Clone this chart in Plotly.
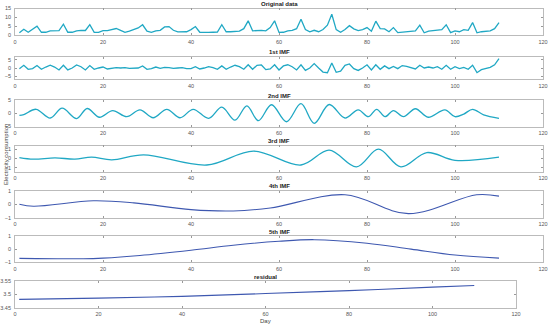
import plotly.graph_objects as go

W, H = 550, 325

# ---------------- data ----------------
days = list(range(1, 111))

original = [1.4, 3.4, 1.7, 3.4, 5.1, 1.7, 1.7, 2.5, 2.6, 2.6,
            6.2, 1.7, 1.7, 2.5, 2.8, 2.7, 6.0, 1.7, 1.6, 2.6,
            2.6, 3.4, 3.8, 2.8, 1.7, 2.3, 3.2, 4.1, 5.9, 2.3,
            1.6, 2.5, 2.8, 4.7, 4.9, 2.8, 1.9, 2.0, 2.0, 3.2,
            4.9, 1.7, 1.5, 1.6, 1.7, 1.8, 5.9, 2.0, 2.0, 2.0,
            2.3, 3.7, 8.1, 2.5, 2.8, 2.8, 2.5, 4.3, 8.1, 1.6,
            1.7, 2.5, 2.8, 3.7, 9.0, 3.2, 1.9, 2.8, 2.0, 3.2,
            5.7, 11.8, 3.2, 1.7, 3.2, 5.4, 3.6, 2.6, 3.2, 4.3,
            2.3, 7.9, 3.7, 3.6, 2.0, 4.3, 1.5, 1.7, 1.9, 2.0,
            2.5, 5.7, 1.4, 2.3, 2.5, 2.8, 3.2, 5.9, 1.5, 2.5,
            2.0, 3.2, 2.8, 7.1, 1.4, 2.0, 2.3, 2.5, 3.7, 7.1]

imf1 = [-0.4, 1.7, -0.8, -0.4, 1.5, -0.8, 0.6, 1.7, 0.6, -1.2,
        1.7, -1.2, 0.0, 1.9, 0.8, -1.2, 1.5, -0.8, 0.0, 0.6,
        -0.6, -0.2, 0.2, 0.0, 0.2, -0.2, 0.0, 0.0, 1.3, -0.8,
        -0.4, 0.6, -0.2, 0.4, 0.2, -0.2, 0.0, 0.2, -0.4, -0.4,
        0.8, -0.6, 0.0, 0.8, 0.2, -0.8, 1.3, -0.8, 0.6, 1.7,
        0.8, -0.8, 2.0, -0.8, 1.7, 1.9, -1.0, -0.6, 2.0, -1.2,
        1.3, 2.0, 0.8, -1.2, 2.0, -1.5, 0.0, 2.7, 0.0, -2.5,
        -2.9, 3.1, -2.7, -2.0, 1.7, 2.5, -0.4, -1.5, 0.0, 2.0,
        -1.2, 2.0, -0.8, 1.3, -0.4, 1.0, -0.4, 1.5, 1.0, 0.2,
        -0.6, 1.7, 0.0, 0.6, 0.0, 0.8, -0.8, 1.7, -0.8, 0.8,
        -0.4, 0.4, -0.8, 1.7, -2.9, -1.0, -0.4, 0.4, 2.0, 5.8]

imf2_day = [1, 2, 4.8, 8, 10.7, 14, 16.4, 19.2, 22.2, 25.4, 28.4, 31.4, 34.5,
            37.5, 40.5, 44, 47, 50, 52.7, 55.3, 58.3, 61.7, 65, 68, 71.4, 75,
            78, 80.3, 82.2, 84.1, 86, 88.3, 91, 93.9, 97.7, 100, 102, 104,
            106.5, 110]
imf2_val = [-0.8, -0.5, 1.5, -1.8, 1.9, -2.0, 1.8, -1.5, 1.0, -1.3, 1.3, -1.7, 1.5,
            -1.7, 1.5, -1.9, 2.3, -2.6, 2.8, -2.8, 3.2, -3.2, 3.6, -3.8, 3.3, -1.8,
            1.3, -1.3, 1.5, -1.3, 1.0, -1.3, 1.7, -1.5, 1.3, -1.3, -0.3, 1.5,
            -0.6, -1.9]

imf3_day = [1, 4.2, 9.1, 13.6, 17.4, 22, 29.2, 43.6, 54.2, 65, 71.4, 77.6,
            82.6, 87.7, 93.6, 100, 110]
imf3_val = [0.1, -0.07, 0.07, -0.07, 0.14, -0.14, 0.4, -0.7, 0.8, -0.7, 0.9, -0.9,
            1.0, -0.9, 0.64, -0.2, 0.14]

imf4_day = [1, 4.2, 17.8, 27, 40, 49.6, 58, 75, 89.4, 104.9, 110]
imf4_val = [0.0, -0.15, 0.25, 0.1, -0.4, -0.5, -0.28, 0.7, -0.7, 0.7, 0.6]

imf5_day = [1, 15.5, 20, 28.4, 40, 49.6, 60, 68, 80, 90, 100, 110]
imf5_val = [-0.7, -0.73, -0.68, -0.48, -0.08, 0.3, 0.6, 0.72, 0.45, 0.0, -0.45, -0.68]

res_day = [1, 20, 40, 60, 80, 100, 110]
res_val = [3.481, 3.486, 3.4925, 3.503, 3.514, 3.527, 3.533]

titles = ["Original data", "1st IMF", "2nd IMF", "3rd IMF", "4th IMF", "5th IMF", "residual"]
y_ranges = [[0, 15], [-7, 7], [-5, 5], [-1.4, 1.4], [-1, 1], [-1, 1], [3.45, 3.55]]
y_ticks = [[0, 5, 10, 15], [-5, 0, 5], [-5, 0, 5], [-1, 0, 1], [-1, 0, 1], [-1, 0, 1],
           [3.45, 3.5, 3.55]]
x_ticks = [0, 20, 40, 60, 80, 100, 120]

# ---------------- layout geometry (pixels) ----------------
boxes = [  # left, right, top, bottom
    (15, 543, 8.5, 35.3),
    (15, 543, 56.7, 79.3),
    (15, 543, 100, 126.5),
    (15, 543, 145.5, 171.5),
    (15, 543, 190.7, 217.7),
    (15, 543, 236, 262.3),
    (15, 516, 281, 307.7),
]

cyan = "rgb(32,168,196)"
blue = "rgb(62,88,176)"

series = [
    (days, original, cyan, "linear", 1.3),
    (days, imf1, cyan, "linear", 1.3),
    (imf2_day, imf2_val, cyan, "spline", 1.3),
    (imf3_day, imf3_val, cyan, "spline", 1.3),
    (imf4_day, imf4_val, blue, "spline", 1.1),
    (imf5_day, imf5_val, blue, "spline", 1.1),
    (res_day, res_val, blue, "spline", 1.1),
]

fig = go.Figure()
tick_font = dict(family="Liberation Sans, Arial", size=5.5, color="#555555")
annotations = []

for i, ((xd, yd, col, shape, lw), box) in enumerate(zip(series, boxes)):
    n = "" if i == 0 else str(i + 1)
    l, r, t, b = box
    fig.add_trace(go.Scatter(x=xd, y=yd, mode="lines",
                             line=dict(color=col, width=lw, shape=shape, smoothing=1.0),
                             xaxis="x" + n, yaxis="y" + n, showlegend=False,
                             hoverinfo="skip"))
    fig.layout["xaxis" + n] = dict(
        domain=[l / W, r / W], anchor="y" + n, range=[0, 120], automargin=False,
        tickvals=x_ticks, ticks="inside", ticklen=2, tickcolor="#999999",
        showline=True, linecolor="#bbbbbb", linewidth=0.8, mirror="ticks",
        showgrid=False, zeroline=False, tickfont=tick_font, ticklabelstandoff=1,
    )
    fig.layout["yaxis" + n] = dict(
        domain=[1 - b / H, 1 - t / H], anchor="x" + n, range=y_ranges[i], automargin=False,
        tickvals=y_ticks[i], ticks="inside", ticklen=2, tickcolor="#999999",
        showline=True, linecolor="#bbbbbb", linewidth=0.8, mirror="ticks",
        showgrid=False, zeroline=False, tickfont=tick_font, ticklabelstandoff=2,
    )
    if i == 0:
        ty, ya = 1.0, "top"
    else:
        ty, ya = 1 - (t - 0.3) / H, "bottom"
    annotations.append(dict(
        text="<b>" + titles[i] + "</b>", xref="paper", yref="paper",
        x=((l + r) / 2) / W, y=ty, xanchor="center", yanchor=ya, borderpad=0,
        showarrow=False, font=dict(family="Liberation Sans, Arial", size=6, color="#222222"),
    ))

annotations.append(dict(
    text="Day", xref="paper", yref="paper", x=((15 + 516) / 2) / W, y=1 - 315.5 / H,
    xanchor="center", yanchor="top", showarrow=False,
    font=dict(family="Liberation Sans, Arial", size=6, color="#444444")))
annotations.append(dict(
    text="Electricity consumption", xref="paper", yref="paper", x=1 / W, y=1 - 155 / H,
    xanchor="left", yanchor="middle", textangle=-90, showarrow=False,
    font=dict(family="Liberation Sans, Arial", size=6, color="#444444")))

fig.update_layout(width=W, height=H, margin=dict(l=0, r=0, t=0, b=0),
                  paper_bgcolor="white", plot_bgcolor="white",
                  annotations=annotations)

fig.write_html("out.html", config={"displayModeBar": False},
               post_script="document.body.style.margin='0';document.body.style.overflow='hidden';")
